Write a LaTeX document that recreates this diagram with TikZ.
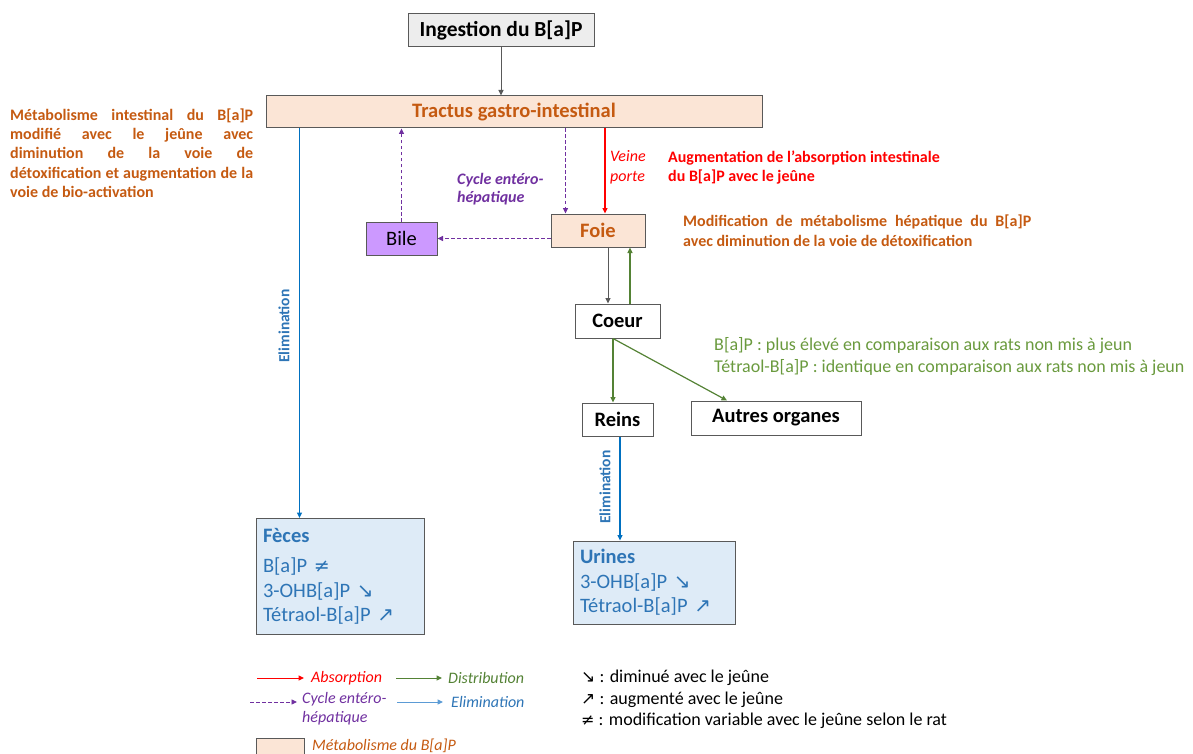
\documentclass[tikz,border=0pt]{standalone}
\usepackage{fontspec}
\setmainfont{Carlito}
\newfontfamily\symf{DejaVu Sans}
\usetikzlibrary{arrows.meta}
\definecolor{orng}{HTML}{C55A11}
\definecolor{peach}{HTML}{FBE5D6}
\definecolor{bordg}{HTML}{595959}
\definecolor{ingfill}{HTML}{EDEDED}
\definecolor{elim}{HTML}{0070C0}
\definecolor{elimtxt}{HTML}{2E75B6}
\definecolor{elimlight}{HTML}{5B9BD5}
\definecolor{bluefill}{HTML}{DEEBF7}
\definecolor{grn}{HTML}{548235}
\definecolor{grntxt}{HTML}{6A9A3E}
\definecolor{purp}{HTML}{7030A0}
\definecolor{bilefill}{HTML}{CC99FF}
\definecolor{rd}{HTML}{FF0000}
\newcommand{\fsz}[2]{\fontsize{#1}{#2}\selectfont}
\begin{document}
\begin{tikzpicture}[x=1pt,y=-1pt,
  box/.style={draw=bordg, line width=1pt, inner sep=0pt, align=center},
  tipa/.style={-{Triangle[length=5.5pt,width=5pt]}},
  grayarr/.style={tipa, draw=bordg, line width=1pt},
  redarr/.style={tipa, draw=rd, line width=1.3pt},
  grnarr/.style={tipa, draw=grn, line width=1.2pt},
  bluarr/.style={tipa, draw=elim, line width=1.6pt},
  purarr/.style={tipa, draw=purp, dashed, dash pattern=on 3.5pt off 2.5pt, line width=0.9pt},
  lbl/.style={inner sep=0pt, align=left},
]
\useasboundingbox (0,0) rectangle (1193,754);

% boxes
\node[box, fill=ingfill, minimum width=186pt, minimum height=33pt, font=\fsz{21.5}{24}\bfseries] (ing) at (501,30.5) {Ingestion du B[a]P};
\node[box, fill=peach, minimum width=496pt, minimum height=32pt, font=\fsz{20.5}{23}\bfseries, text=orng] (trac) at (514,112) {Tractus gastro-intestinal};
\node[box, fill=bilefill, minimum width=71pt, minimum height=33pt, font=\fsz{20.5}{23}] (bile) at (401.5,238.5) {Bile};
\node[box, fill=peach, minimum width=94pt, minimum height=33pt, font=\fsz{20.5}{23}\bfseries, text=orng] (foie) at (598,230.5) {Foie};
\node[box, fill=white, minimum width=85pt, minimum height=34pt, font=\fsz{20.5}{23}\bfseries] (coeur) at (617.5,321) {Coeur};
\node[box, fill=white, minimum width=71pt, minimum height=33pt, font=\fsz{20.5}{23}\bfseries] (reins) at (617.5,419.5) {Reins};
\node[box, fill=white, minimum width=170pt, minimum height=34pt, font=\fsz{20.5}{23}\bfseries] (autres) at (776,418) {Autres organes};
\node[box, fill=bluefill, minimum width=168pt, minimum height=116pt, text width=154pt, align=left, font=\fsz{20.5}{24.5}, text=elimtxt] (fec) at (340,576.5)
  {{\bfseries Fèces}\\[6pt]B[a]P {\symf\fsz{19}{24.5}≠}\\3-OHB[a]P {\symf\fsz{20}{24.5}↘}\\Tétraol-B[a]P {\symf\fsz{20}{24.5}↗}};
\node[box, fill=bluefill, minimum width=162pt, minimum height=83pt, text width=148pt, align=left, font=\fsz{20.5}{24.5}, text=elimtxt] (uri) at (654,582.5)
  {{\bfseries Urines}\\3-OHB[a]P {\symf\fsz{20}{24.5}↘}\\Tétraol-B[a]P {\symf\fsz{20}{24.5}↗}};

% connectors
\draw[grayarr] (ing.south) -- (ing.south |- trac.north);
\draw[bluarr] ([xshift=34pt]trac.south west) -- ([xshift=34pt]trac.south west |- fec.north);
\draw[purarr] (bile.north) -- (bile.north |- trac.south);
\draw[purarr] ([xshift=15pt]foie.north west |- trac.south) -- ([xshift=15pt]foie.north west);
\draw[redarr] ([xshift=7pt]foie.north |- trac.south) -- ([xshift=7pt]foie.north);
\draw[purarr] (foie.west |- bile.east) -- (bile.east);
\draw[grayarr] ([xshift=10pt]foie.south) -- ([xshift=10pt]foie.south |- coeur.north);
\draw[grnarr] ([xshift=32pt]foie.south |- coeur.north) -- ([xshift=32pt]foie.south);
\draw[grnarr] ([xshift=-4.5pt]coeur.south) -- ([xshift=-4.5pt]coeur.south |- reins.north);
\draw[grnarr] ([xshift=-4.5pt]coeur.south) -- ([xshift=-49pt]autres.north);
\draw[bluarr] ([xshift=2.5pt]reins.south) -- ([xshift=2.5pt]reins.south |- uri.north);

% labels
\node[lbl, rotate=90, font=\fsz{15.5}{18}\bfseries, text=elimtxt] (el1) at (284,326) {Elimination};
\node[lbl, rotate=90, font=\fsz{15.5}{18}\bfseries, text=elimtxt] (el2) at (605,487) {Elimination};
\node[lbl, anchor=west, font=\fsz{16}{20}\itshape, text=rd] (veine) at (610,167) {Veine\\porte};
\node[lbl, anchor=west, font=\fsz{16}{18.5}\bfseries\itshape, text=purp] (cycle) at (457,189) {Cycle entéro-\\hépatique};
\node[lbl, anchor=west, font=\fsz{16}{19}\bfseries, text=rd] (augm) at (668,167.5) {Augmentation de l’absorption intestinale\\du B[a]P avec le jeûne};
\node[lbl, anchor=west, font=\fsz{16}{20}\bfseries, text=orng] (modif) at (683,231) {\makebox[348pt][s]{Modification de métabolisme hépatique du B[a]P}\\avec diminution de la voie de détoxification};
\node[lbl, anchor=west, font=\fsz{18}{22}, text=grntxt] (distr) at (714,357) {B[a]P : plus élevé en comparaison aux rats non mis à jeun\\Tétraol-B[a]P : identique en comparaison aux rats non mis à jeun};
\node[lbl, anchor=west, font=\fsz{16}{19.3}\bfseries, text=orng] (intest) at (10,153) {\makebox[243pt][s]{Métabolisme intestinal du B[a]P}\\\makebox[243pt][s]{modifié avec le jeûne avec}\\\makebox[243pt][s]{diminution de la voie de}\\\makebox[243pt][s]{détoxification et augmentation de la}\\voie de bio-activation};

% legend
\coordinate (la1) at (257,678); \coordinate (la2) at (304,678);
\draw[redarr, line width=1pt] (la1) -- (la2);
\node[lbl, anchor=west, font=\fsz{16}{19}\itshape, text=rd] (labs) at (311,678) {Absorption};
\coordinate (lb1) at (396,678); \coordinate (lb2) at (442,678);
\draw[grnarr, line width=1pt] (lb1) -- (lb2);
\node[lbl, anchor=west, font=\fsz{16}{19}\itshape, text=grn] (ldis) at (448,678) {Distribution};
\coordinate (lc1) at (250,702); \coordinate (lc2) at (297,702);
\draw[purarr] (lc1) -- (lc2);
\node[lbl, anchor=north west, font=\fsz{16}{19}\itshape, text=purp] (lcyc) at (302,692) {Cycle entéro-\\hépatique};
\coordinate (ld1) at (397,702); \coordinate (ld2) at (443,702);
\draw[tipa, draw=elimlight, line width=1pt] (ld1) -- (ld2);
\node[lbl, anchor=west, font=\fsz{16}{19}\itshape, text=elimtxt] (lelim) at (451,702) {Elimination};
\node[draw=bordg, fill=peach, line width=1pt, minimum width=48pt, minimum height=24pt, inner sep=0pt, anchor=north west] (lmet) at (256,738) {};
\node[lbl, anchor=west, font=\fsz{16}{19}\itshape, text=orng] (lmett) at (312,745.5) {Métabolisme du B[a]P};

\node[lbl, anchor=north west, font=\fsz{18}{21.5}] (lsym) at (581,670) {{\symf\fsz{17}{21.5}↘} : diminué avec le jeûne\\{\symf\fsz{17}{21.5}↗} : augmenté avec le jeûne\\{\symf\fsz{16}{21.5}≠} : modification variable avec le jeûne selon le rat};
\end{tikzpicture}
\end{document}
